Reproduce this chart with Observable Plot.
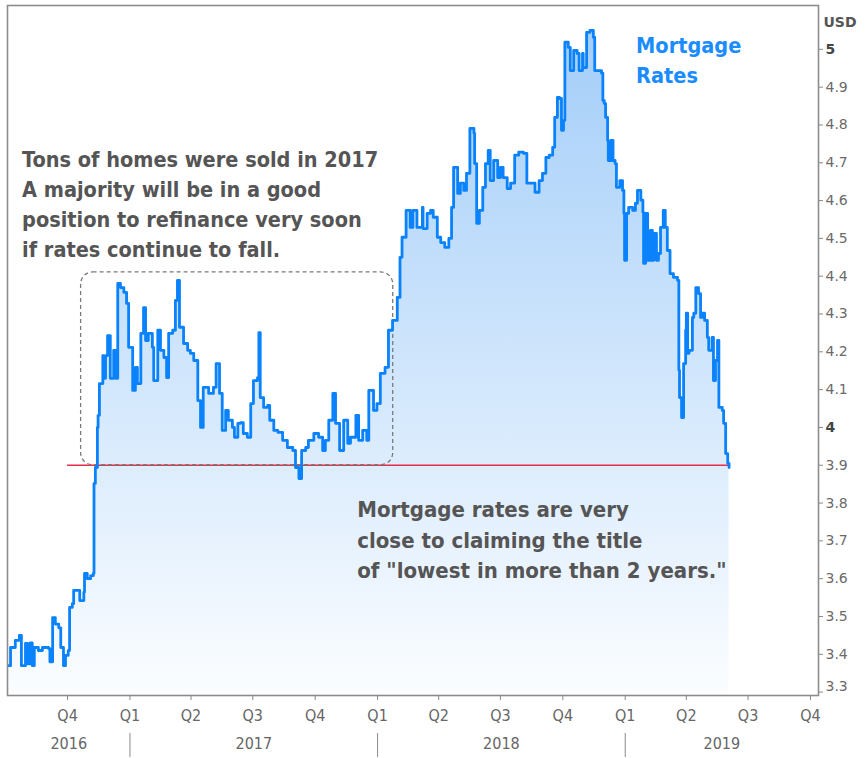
<!DOCTYPE html>
<html><head><meta charset="utf-8">
<script src="https://cdn.jsdelivr.net/npm/d3@7"></script>
<script src="https://cdn.jsdelivr.net/npm/@observablehq/plot@0.6"></script>
<style>html,body{margin:0;padding:0;background:#fff;}</style>
</head><body><div id="chart"></div>
<script>
const dates = ["2016-07-06","2016-07-09","2016-07-16","2016-07-22","2016-07-25","2016-07-31","2016-08-03","2016-08-07","2016-08-10","2016-08-13","2016-08-19","2016-08-25","2016-09-03","2016-09-05","2016-09-09","2016-09-13","2016-09-18","2016-09-21","2016-09-25","2016-09-28","2016-10-02","2016-10-04","2016-10-08","2016-10-10","2016-10-16","2016-10-19","2016-10-25","2016-10-26","2016-10-30","2016-11-04","2016-11-08","2016-11-09","2016-11-11","2016-11-14","2016-11-15","2016-11-17","2016-11-22","2016-11-23","2016-11-26","2016-11-29","2016-12-03","2016-12-08","2016-12-11","2016-12-14","2016-12-18","2016-12-23","2016-12-27","2016-12-30","2017-01-05","2017-01-09","2017-01-12","2017-01-17","2017-01-21","2017-01-24","2017-01-28","2017-02-03","2017-02-05","2017-02-11","2017-02-15","2017-02-20","2017-02-24","2017-02-27","2017-03-05","2017-03-09","2017-03-12","2017-03-15","2017-03-21","2017-03-27","2017-03-31","2017-04-05","2017-04-11","2017-04-15","2017-04-19","2017-04-27","2017-05-04","2017-05-08","2017-05-13","2017-05-17","2017-05-22","2017-05-26","2017-06-01","2017-06-04","2017-06-09","2017-06-13","2017-06-17","2017-06-23","2017-06-28","2017-07-02","2017-07-08","2017-07-10","2017-07-12","2017-07-17","2017-07-23","2017-07-26","2017-08-01","2017-08-07","2017-08-14","2017-08-21","2017-08-29","2017-09-02","2017-09-07","2017-09-11","2017-09-17","2017-09-21","2017-09-29","2017-10-06","2017-10-12","2017-10-16","2017-10-21","2017-10-27","2017-10-31","2017-11-06","2017-11-12","2017-11-18","2017-11-22","2017-11-30","2017-12-04","2017-12-10","2017-12-16","2017-12-19","2017-12-26","2017-12-31","2018-01-05","2018-01-12","2018-01-17","2018-01-23","2018-01-30","2018-02-03","2018-02-06","2018-02-12","2018-02-18","2018-02-22","2018-02-28","2018-03-08","2018-03-09","2018-03-15","2018-03-20","2018-03-24","2018-03-30","2018-04-04","2018-04-10","2018-04-16","2018-04-20","2018-04-23","2018-04-29","2018-05-03","2018-05-08","2018-05-12","2018-05-17","2018-05-23","2018-05-24","2018-05-27","2018-05-31","2018-06-05","2018-06-09","2018-06-13","2018-06-16","2018-06-21","2018-06-27","2018-07-01","2018-07-05","2018-07-11","2018-07-16","2018-07-22","2018-07-28","2018-08-04","2018-08-09","2018-08-15","2018-08-21","2018-08-27","2018-09-01","2018-09-06","2018-09-11","2018-09-16","2018-09-19","2018-09-23","2018-09-26","2018-09-29","2018-10-02","2018-10-04","2018-10-09","2018-10-12","2018-10-17","2018-10-22","2018-10-25","2018-10-30","2018-10-31","2018-11-05","2018-11-10","2018-11-15","2018-11-17","2018-11-23","2018-11-27","2018-11-29","2018-12-01","2018-12-03","2018-12-06","2018-12-07","2018-12-11","2018-12-14","2018-12-17","2018-12-19","2018-12-24","2018-12-28","2018-12-30","2018-12-31","2019-01-03","2019-01-06","2019-01-12","2019-01-16","2019-01-19","2019-01-24","2019-01-27","2019-01-28","2019-01-31","2019-02-03","2019-02-07","2019-02-10","2019-02-12","2019-02-16","2019-02-19","2019-02-22","2019-02-26","2019-03-01","2019-03-04","2019-03-08","2019-03-13","2019-03-19","2019-03-21","2019-03-22","2019-03-25","2019-03-28","2019-03-31","2019-04-01","2019-04-03","2019-04-05","2019-04-10","2019-04-12","2019-04-15","2019-04-19","2019-04-22","2019-04-25","2019-04-28","2019-05-02","2019-05-04","2019-05-09","2019-05-11","2019-05-14","2019-05-17","2019-05-19","2019-05-24","2019-05-26","2019-05-29","2019-06-01","2019-06-03"];
const rates = [3.37,3.418,3.437,3.45,3.37,3.429,3.375,3.43,3.37,3.418,3.41,3.418,3.415,3.38,3.497,3.48,3.47,3.418,3.37,3.397,3.41,3.524,3.534,3.569,3.569,3.542,3.564,3.614,3.6,3.608,3.614,3.852,3.894,4.0,4.032,4.116,4.19,4.13,4.19,4.243,4.13,4.204,4.13,4.381,4.37,4.357,4.328,4.212,4.098,4.159,4.116,4.249,4.317,4.23,4.249,4.212,4.124,4.257,4.204,4.185,4.132,4.249,4.257,4.336,4.389,4.265,4.222,4.204,4.196,4.177,4.071,4.0,4.106,4.09,4.106,4.169,4.09,3.992,4.045,4.019,4.0,3.974,4.011,4.013,3.984,3.974,4.063,4.124,4.132,4.251,4.079,4.053,4.058,4.019,3.992,3.987,3.966,3.947,3.939,3.894,3.865,3.939,3.947,3.966,3.984,3.974,3.939,3.966,4.019,4.09,4.011,3.939,4.019,3.958,3.974,4.032,3.966,3.992,3.966,4.098,4.045,4.063,4.143,4.159,4.257,4.283,4.344,4.45,4.503,4.574,4.529,4.574,4.529,4.582,4.526,4.566,4.574,4.556,4.503,4.489,4.476,4.5,4.582,4.688,4.619,4.646,4.627,4.672,4.791,4.778,4.698,4.54,4.574,4.635,4.698,4.733,4.653,4.706,4.661,4.688,4.661,4.632,4.646,4.72,4.728,4.725,4.646,4.646,4.622,4.653,4.672,4.714,4.72,4.741,4.82,4.873,4.87,4.786,4.812,5.019,5.005,4.944,4.997,4.989,4.944,4.989,4.952,5.045,5.05,5.032,4.944,4.944,4.937,4.865,4.857,4.82,4.759,4.706,4.759,4.706,4.698,4.635,4.653,4.627,4.566,4.442,4.566,4.582,4.574,4.593,4.627,4.601,4.569,4.434,4.566,4.442,4.521,4.442,4.513,4.442,4.46,4.529,4.574,4.529,4.468,4.407,4.397,4.389,4.151,4.079,4.026,4.169,4.257,4.302,4.196,4.204,4.291,4.302,4.37,4.354,4.291,4.302,4.283,4.238,4.204,4.238,4.124,4.177,4.23,4.053,4.045,4.011,3.931,3.905,3.894];

const quarterTicks = ["2016-10-01","2017-01-01","2017-04-01","2017-07-01","2017-10-01","2018-01-01","2018-04-01","2018-07-01","2018-10-01","2019-01-01","2019-04-01","2019-07-01","2019-10-01"];
const quarterLabels = ["Q4","Q1","Q2","Q3","Q4","Q1","Q2","Q3","Q4","Q1","Q2","Q3","Q4"];
const yearLabels = ["2016","2017","2018","2019"];
const yearBreaks = ["2017-01-01","2018-01-01","2019-01-01"];
const yTicks = [3.3,3.4,3.5,3.6,3.7,3.8,3.9,4.0,4.1,4.2,4.3,4.4,4.5,4.6,4.7,4.8,4.9,5.0];
const yTickLabels = ["3.3","3.4","3.5","3.6","3.7","3.8","3.9","4","4.1","4.2","4.3","4.4","4.5","4.6","4.7","4.8","4.9","5"];
const thresholdRate = 3.9;
const thresholdStart = "2016-10-01";
const boxStart = "2016-10-21", boxEnd = "2018-01-24", boxLow = 3.9, boxHigh = 4.41;
const note1 = "Tons of homes were sold in 2017\nA majority will be in a good\nposition to refinance very soon\nif rates continue to fall.";
const note1At = {date: "2016-07-26", rate: 4.595};
const note2 = "Mortgage rates are very\nclose to claiming the title\nof \"lowest in more than 2 years.\"";
const note2At = {date: "2017-12-02", rate: 3.708};
const seriesName = "Mortgage\nRates";
const seriesNameAt = {date: "2019-01-17", rate: 4.976};
const unitLabel = "USD";

const parse = s => new Date(s + "T00:00:00Z");
const data = dates.map((d, i) => ({date: parse(d), rate: rates[i]}));
const xDomain = [new Date("2016-07-04T12:00:00Z"), new Date("2019-10-12T20:00:00Z")];
const yDomain = [3.291, 5.116];
const lastDate = data[data.length - 1].date;

const years = yearLabels.map(y => {
  const a = Math.max(+xDomain[0], +parse(y + "-01-01"));
  const b = Math.min(+xDomain[1], +parse((+y + 1) + "-01-01"));
  return {label: y, date: new Date((a + b) / 2)};
});

const narrow = "'Liberation Sans Narrow', 'DejaVu Sans Condensed', 'Arial Narrow', sans-serif";
const boldFont = "'DejaVu Sans Condensed', 'DejaVu Sans', sans-serif";

const chart = Plot.plot({
  width: 866, height: 758,
  marginLeft: 7, marginRight: 48, marginTop: 5, marginBottom: 63,
  x: {type: "utc", domain: xDomain},
  y: {domain: yDomain},
  style: {fontFamily: "'DejaVu Sans', sans-serif", background: "#fff", overflow: "visible"},
  marks: [
    Plot.areaY(data, {x: "date", y1: yDomain[0], y2: "rate", curve: "step-after", fill: "url(#mgrad)"}),
    Plot.ruleY([thresholdRate], {x1: parse(thresholdStart), x2: lastDate, stroke: "#e62e48", strokeWidth: 1.7}),
    Plot.rect([{x1: parse(boxStart), x2: parse(boxEnd), y1: boxLow, y2: boxHigh}], {x1: "x1", x2: "x2", y1: "y1", y2: "y2", fill: "none", stroke: "#7a7a7a", strokeWidth: 1.3, strokeDasharray: "4,3", rx: 12}),
    Plot.lineY(data, {x: "date", y: "rate", curve: "step-after", stroke: "#0a82fb", strokeWidth: 2.8}),
    Plot.frame({stroke: "#8c8c8c", strokeWidth: 1.6}),
    Plot.axisY(yTicks, {anchor: "right", label: null, tickSize: 4, tickPadding: 3, stroke: "#888",
      tickFormat: d => yTickLabels[yTicks.indexOf(d)], fontSize: 14, fill: "#6a6a6a"}),
    Plot.axisX(quarterTicks.map(parse), {anchor: "bottom", label: null, tickSize: 5, tickPadding: 9, stroke: "#888",
      tickFormat: d => quarterLabels[quarterTicks.indexOf(d.toISOString().slice(0, 10))], fontSize: 16, fontFamily: narrow, fill: "#666"}),
    Plot.ruleX(yearBreaks.map(parse), {insetTop: 728, insetBottom: -62, stroke: "#888", strokeWidth: 1}),
    Plot.text(years, {x: "date", text: "label", frameAnchor: "bottom", dy: 53, fontSize: 16, fontFamily: narrow, fill: "#666"}),
    Plot.text([unitLabel], {frameAnchor: "top-right", text: d => d, textAnchor: "start", dx: 5, dy: 12, fontSize: 14, fontWeight: "bold", fill: "#555"}),
    Plot.text([{...note1At, label: note1}], {x: d => parse(d.date), y: "rate", text: "label", textAnchor: "start", lineHeight: 1.4, fontSize: 21.5, fontWeight: "bold", fontFamily: boldFont, fill: "#555"}),
    Plot.text([{...note2At, label: note2}], {x: d => parse(d.date), y: "rate", text: "label", textAnchor: "start", lineHeight: 1.4, fontSize: 22, fontWeight: "bold", fontFamily: boldFont, fill: "#555"}),
    Plot.text([{...seriesNameAt, label: seriesName}], {x: d => parse(d.date), y: "rate", text: "label", textAnchor: "start", lineHeight: 1.4, fontSize: 21.5, fontWeight: "bold", fontFamily: boldFont, fill: "#1a8cff"})
  ]
});

const svg = d3.select(chart);
const defs = svg.insert("defs", ":first-child");
const g = defs.append("linearGradient").attr("id", "mgrad").attr("x1", 0).attr("y1", 0).attr("x2", 0).attr("y2", 1);
g.append("stop").attr("offset", "0").attr("stop-color", "#a4cef9");
g.append("stop").attr("offset", "1").attr("stop-color", "#fbfdff");

svg.selectAll("text").each(function() {
  const t = this.textContent;
  if (this.closest("[aria-label='y-axis tick label']")) {
    if (t === "5" || t === "4") d3.select(this).attr("font-weight", "bold").attr("fill", "#444");
    if (t === "3.3") {
      const tr = this.getAttribute("transform") || "";
      this.setAttribute("transform", tr + " translate(0,-6)");
    }
  }
});

document.getElementById("chart").appendChild(chart);
</script>
</body></html>
